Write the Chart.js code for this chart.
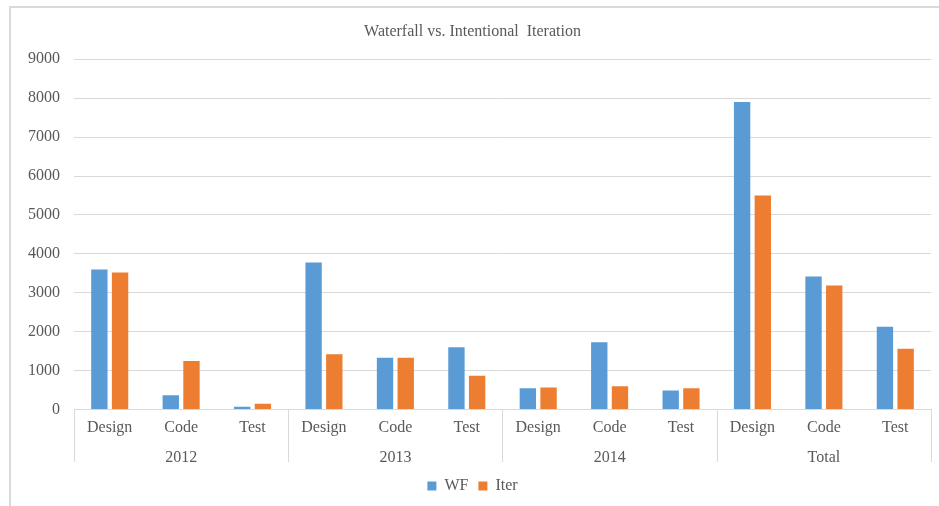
<!DOCTYPE html>
<html>
<head>
<meta charset="utf-8">
<script src="https://cdn.jsdelivr.net/npm/chart.js@4"></script>
<style>
  html, body { margin: 0; padding: 0; background: #fff; }
  #frame { position: absolute; left: 9px; top: 6px; width: 940px; height: 510px;
           border-left: 2px solid #d9d9d9; border-top: 2px solid #d9d9d9; }
  #wrap { position: absolute; left: 0; top: 0; width: 939px; height: 506px; }
</style>
</head>
<body>
<div id="frame"></div>
<div id="wrap"><canvas id="myChart"></canvas></div>
<script>
    // categories and series
    var groups = ['2012', '2013', '2014', 'Total'];
    var phases = ['Design', 'Code', 'Test'];
    var categories = ['Design', 'Code', 'Test', 'Design', 'Code', 'Test',
                      'Design', 'Code', 'Test', 'Design', 'Code', 'Test'];
    var wfValues = [3600, 370, 70, 3780, 1330, 1600, 550, 1730, 490, 7900, 3420, 2130];
    var iterValues = [3520, 1250, 150, 1420, 1330, 870, 570, 600, 550, 5500, 3190, 1560];
    var yTicks = [0, 1000, 2000, 3000, 4000, 5000, 6000, 7000, 8000, 9000];

    var textColor = '#595959';
    var lineColor = '#d9d9d9';
    var serif = "'Liberation Serif', 'Times New Roman', serif";

    // vertical separators between the year groups, below the axis
    var groupLines = {
        id: 'groupLines',
        afterDraw: function(chart) {
            var x = chart.scales.x, x2 = chart.scales.x2, ctx = chart.ctx;
            var n = phases.length;
            ctx.save();
            ctx.strokeStyle = lineColor;
            ctx.lineWidth = 1;
            for (var g = 0; g <= groups.length; g++) {
                var px;
                if (g === 0) px = x.left;
                else if (g === groups.length) px = x.right;
                else px = (x.getPixelForValue(g * n - 1) + x.getPixelForValue(g * n)) / 2;
                px = Math.round(px) + 0.5;
                ctx.beginPath();
                ctx.moveTo(px, chart.chartArea.bottom);
                ctx.lineTo(px, x2.bottom - 6);
                ctx.stroke();
            }
            ctx.restore();
        }
    };

    var ctx = document.getElementById('myChart').getContext('2d');
    var myChart = new Chart(ctx, {
        type: 'bar',
        data: {
            labels: categories,
            datasets: [{
                label: 'WF',
                data: wfValues,
                backgroundColor: '#5b9bd5'
            }, {
                label: 'Iter',
                data: iterValues,
                backgroundColor: '#ed7d31'
            }]
        },
        options: {
            responsive: true,
            maintainAspectRatio: false,
            animation: false,
            categoryPercentage: 0.58,
            barPercentage: 0.79,
            layout: { padding: { left: 14, right: 8, top: 0, bottom: 2 } },
            plugins: {
                title: {
                    display: true,
                    text: 'Waterfall vs. Intentional  Iteration',
                    color: textColor,
                    font: { family: serif, size: 16, weight: 'normal' },
                    padding: { top: 22, bottom: 18 }
                },
                legend: {
                    position: 'bottom',
                    labels: {
                        color: textColor,
                        font: { family: serif, size: 16 },
                        boxWidth: 9,
                        boxHeight: 9,
                        padding: 10
                    }
                },
                tooltip: { enabled: false }
            },
            scales: {
                x: {
                    grid: { display: false, drawTicks: false },
                    border: { display: true, color: lineColor },
                    ticks: {
                        color: textColor,
                        font: { family: serif, size: 16 },
                        padding: 9,
                        maxRotation: 0,
                        autoSkip: false
                    }
                },
                x2: {
                    type: 'category',
                    position: 'bottom',
                    labels: groups,
                    offset: true,
                    grid: { display: false, drawTicks: false },
                    border: { display: false },
                    ticks: {
                        color: textColor,
                        font: { family: serif, size: 16 },
                        padding: 1,
                        maxRotation: 0
                    }
                },
                y: {
                    min: 0,
                    max: 9000,
                    afterBuildTicks: function(scale) {
                        scale.ticks = yTicks.map(function(v) { return { value: v }; });
                    },
                    grid: { color: lineColor, drawTicks: false },
                    border: { display: false },
                    ticks: {
                        color: textColor,
                        font: { family: serif, size: 16 },
                        padding: 14,
                        callback: function(v) { return String(v); }
                    }
                }
            }
        },
        plugins: [groupLines]
    });
</script>
</body>
</html>
